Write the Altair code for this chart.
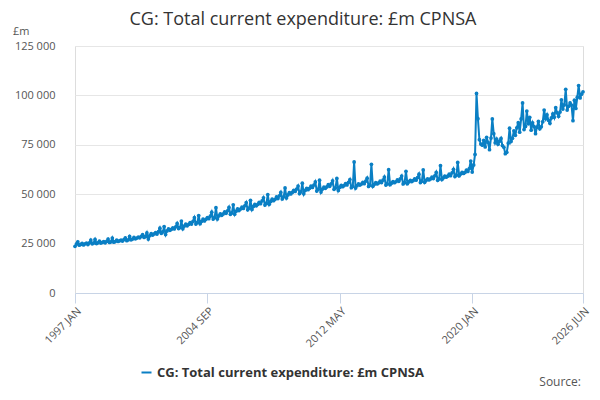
import altair as alt
import pandas as pd

# monthly values, £bn (converted to £m below), Jan..Dec per year
y1997 = [23.6, 24.8, 25.9, 24.2, 24.6, 25.1, 24.3, 24.9, 25.2, 24.5, 25.4, 26.8]
y1998 = [24.9, 25.3, 27.1, 25.0, 25.4, 26.2, 25.3, 25.6, 26.0, 25.4, 26.1, 27.3]
y1999 = [25.6, 25.9, 27.8, 25.7, 26.0, 26.7, 26.1, 26.4, 26.8, 26.3, 27.0, 27.9]
y2000 = [26.5, 26.9, 28.6, 26.9, 27.3, 28.1, 27.4, 27.8, 28.3, 27.9, 28.6, 29.5]
y2001 = [28.1, 28.6, 30.4, 27.3, 29.0, 30.1, 29.3, 29.9, 30.5, 29.8, 31.0, 32.8]
y2002 = [30.2, 30.9, 33.6, 29.6, 31.4, 32.4, 31.7, 32.2, 33.0, 32.4, 33.5, 35.2]
y2003 = [32.6, 33.1, 36.4, 32.5, 33.9, 34.8, 34.0, 34.7, 35.6, 34.9, 36.2, 38.1]
y2004 = [34.9, 35.6, 39.2, 35.1, 36.3, 37.4, 36.5, 37.3, 38.2, 37.6, 38.9, 40.9]
y2005 = [37.4, 38.1, 43.2, 37.5, 39.0, 40.1, 39.3, 40.0, 41.1, 40.3, 41.6, 43.3]
y2006 = [39.8, 40.5, 44.6, 39.9, 41.4, 42.6, 41.7, 42.5, 43.4, 42.8, 44.1, 45.7]
y2007 = [42.1, 42.9, 46.9, 42.3, 43.8, 44.9, 44.1, 44.8, 45.9, 45.2, 46.6, 48.2]
y2008 = [44.5, 45.3, 49.8, 44.9, 46.3, 47.5, 46.7, 47.4, 48.6, 47.8, 49.2, 50.9]
y2009 = [47.6, 48.7, 53.2, 48.1, 49.6, 50.8, 50.1, 50.9, 52.0, 51.4, 52.6, 54.1]
y2010 = [50.3, 51.2, 55.6, 50.2, 51.9, 52.9, 52.3, 53.0, 54.1, 53.4, 54.6, 56.2]
y2011 = [51.6, 52.4, 57.1, 51.1, 52.6, 53.6, 53.0, 53.7, 54.8, 54.0, 55.2, 56.8]
y2012 = [52.5, 53.1, 58.0, 51.9, 53.4, 54.5, 53.8, 54.4, 55.4, 54.7, 56.0, 57.4]
y2013 = [53.3, 54.0, 66.3, 53.1, 54.3, 55.2, 54.6, 55.1, 56.0, 55.3, 56.6, 58.1]
y2014 = [53.9, 54.6, 65.1, 54.0, 55.0, 55.8, 55.2, 55.7, 56.6, 55.9, 57.1, 58.7]
y2015 = [54.6, 55.2, 62.4, 54.8, 55.6, 56.4, 55.8, 56.3, 57.2, 56.5, 57.8, 59.2]
y2016 = [55.2, 55.8, 61.6, 55.3, 56.2, 57.0, 56.4, 56.9, 57.8, 57.1, 58.4, 60.1]
y2017 = [55.9, 56.6, 62.3, 56.0, 57.0, 57.8, 57.2, 57.7, 58.6, 57.9, 59.3, 61.0]
y2018 = [57.0, 57.8, 64.4, 57.4, 58.3, 59.2, 58.6, 59.1, 60.1, 59.4, 60.8, 62.6]
y2019 = [58.9, 59.6, 66.1, 59.3, 60.2, 61.1, 60.5, 61.0, 62.2, 61.5, 63.0, 66.8]
y2020 = [61.2, 64.8, 70.1, 101.0, 88.2, 77.6, 75.4, 74.8, 77.3, 73.9, 78.8, 76.2]
y2021 = [72.5, 78.4, 88.1, 80.6, 76.1, 77.9, 75.3, 76.8, 78.2, 74.6, 73.7, 70.5]
y2022 = [71.2, 75.8, 83.4, 76.7, 78.3, 82.1, 79.8, 83.6, 86.2, 81.4, 88.1, 96.2]
y2023 = [82.7, 84.3, 92.1, 85.6, 88.9, 82.4, 86.1, 84.2, 80.6, 83.9, 86.8, 83.1]
y2024 = [84.1, 86.7, 92.6, 88.3, 90.2, 87.4, 85.9, 88.6, 90.7, 88.9, 93.8, 91.2]
y2025 = [89.4, 91.6, 97.8, 93.1, 95.2, 103.1, 92.6, 94.5, 96.2, 95.1, 87.2, 97.6]
y2026 = [93.4, 99.1, 105.0, 98.7, 100.6, 101.8]

years = [y1997, y1998, y1999, y2000, y2001, y2002, y2003, y2004, y2005, y2006,
         y2007, y2008, y2009, y2010, y2011, y2012, y2013, y2014, y2015, y2016,
         y2017, y2018, y2019, y2020, y2021, y2022, y2023, y2024, y2025, y2026]
vals = [v * 1000 for yr in years for v in yr]
dates = pd.date_range("1997-01-01", periods=len(vals), freq="MS")
df = pd.DataFrame({"date": dates, "value": vals,
                   "series": "CG: Total current expenditure: £m CPNSA"})

tick_dates = [pd.Timestamp(s).isoformat() for s in
              ["1997-01-01", "2004-09-01", "2012-05-01", "2020-01-01", "2026-06-01"]]

label_expr = "upper(timeFormat(datum.value, '%Y %b'))"
C = "#0a7fc4"

base = alt.Chart(df).encode(
    x=alt.X("date:T", title=None,
            scale=alt.Scale(domain=[dates[0].isoformat(), dates[-1].isoformat()]),
            axis=alt.Axis(values=tick_dates, labelExpr=label_expr, labelAngle=-45,
                          labelAlign="right", labelColor="#555", labelFontSize=11,
                          grid=False, domainColor="#c8d4e6", tickColor="#c8d4e6",
                          tickSize=10)),
    y=alt.Y("value:Q", title=None,
            scale=alt.Scale(domain=[0, 125000]),
            axis=alt.Axis(values=[0, 25000, 50000, 75000, 100000, 125000],
                          labelExpr="replace(format(datum.value, ',d'), ',', ' ')",
                          labelColor="#555", labelFontSize=11, domain=False, ticks=False,
                          gridColor="#e6e6e6", labelPadding=20)),
)

line = base.mark_line(color=C, strokeWidth=2).encode(
    color=alt.Color("series:N", scale=alt.Scale(range=[C]),
                    legend=alt.Legend(title=None, orient="none", legendX=65, legendY=320,
                                      labelFontSize=13, labelFontWeight="bold",
                                      labelColor="#333", symbolType="stroke",
                                      symbolStrokeWidth=2, labelLimit=400)))
pts = base.mark_circle(color=C, size=14, opacity=1)

txt_t = alt.Chart(pd.DataFrame({"t": ["CG: Total current expenditure: £m CPNSA"]})).mark_text(
    align="center", fontSize=18, color="#333"
).encode(x=alt.value(228), y=alt.value(-26), text="t:N")
txt_m = alt.Chart(pd.DataFrame({"t": ["£m"]})).mark_text(
    align="left", fontSize=11, color="#555"
).encode(x=alt.value(-62), y=alt.value(-14), text="t:N")
txt_s = alt.Chart(pd.DataFrame({"t": ["Source:"]})).mark_text(
    align="right", fontSize=12, color="#555"
).encode(x=alt.value(506), y=alt.value(336), text="t:N")

out = alt.layer(line, pts, txt_t, txt_m, txt_s).properties(
    width=508, height=247,
    autosize=alt.AutoSizeParams(type="none"),
    padding={"left": 67, "top": 38, "right": 9, "bottom": 99},
).configure_view(stroke=None).configure(font="Open Sans")

out.save("out.html", embed_options={"renderer": "svg", "actions": False})
